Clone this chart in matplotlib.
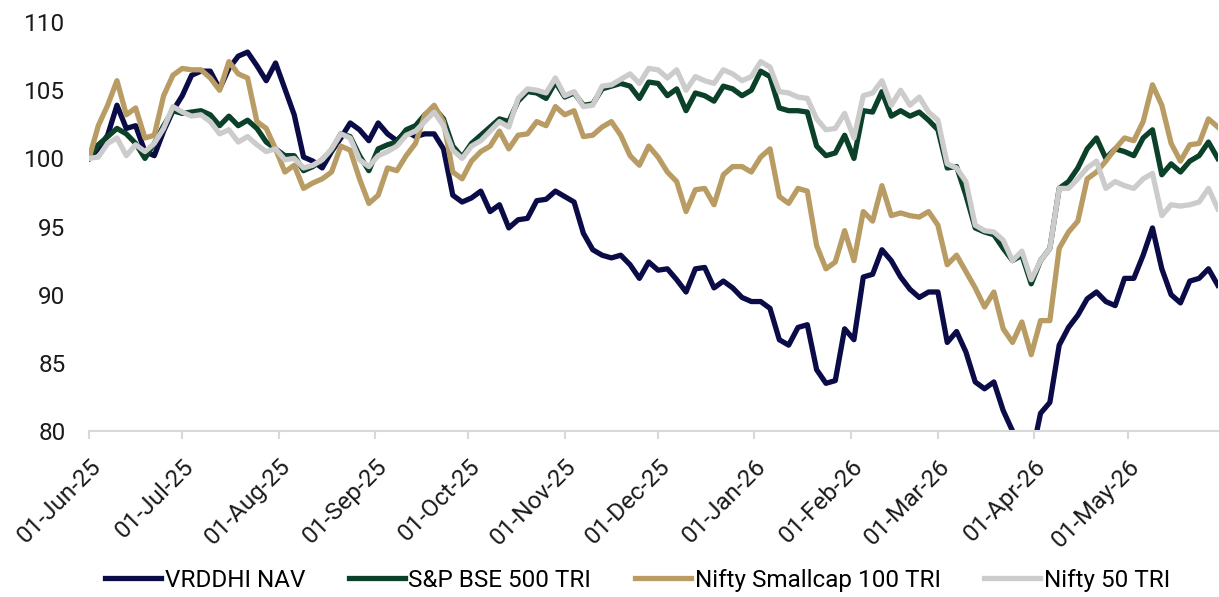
import numpy as np
import pandas as pd
import matplotlib
matplotlib.use('Agg')
import matplotlib.pyplot as plt
import matplotlib.dates as mdates

plt.rcParams['font.family'] = ['Roboto', 'DejaVu Sans']

# values, one every 3 days from 01-Jun-25
dates = pd.date_range('2025-06-01', periods=122, freq='3D')

vrddhi = [100.0, 100.7, 101.7, 103.9, 102.2, 102.4, 100.5, 100.2, 102.0, 103.5,
          104.6, 106.1, 106.4, 106.4, 105.1, 106.6, 107.5, 107.8, 106.8, 105.7,
          107.0, 105.1, 103.2, 100.1, 99.8, 99.3, 100.5, 101.5, 102.6, 102.1,
          101.3, 102.6, 101.8, 101.3, 102.0, 101.6, 101.8, 101.8, 100.7, 97.3,
          96.8, 97.1, 97.6, 96.1, 96.6, 94.9, 95.5, 95.6, 96.9, 97.0,
          97.6, 97.2, 96.8, 94.5, 93.3, 92.9, 92.7, 92.9, 92.2, 91.2,
          92.4, 91.8, 91.9, 91.1, 90.2, 91.9, 92.0, 90.5, 91.0, 90.5,
          89.8, 89.5, 89.5, 89.0, 86.7, 86.3, 87.6, 87.8, 84.5, 83.5,
          83.7, 87.5, 86.7, 91.3, 91.5, 93.3, 92.5, 91.3, 90.4, 89.8,
          90.2, 90.2, 86.5, 87.3, 85.8, 83.6, 83.1, 83.6, 81.5, 80.0,
          78.0, 78.0, 81.3, 82.1, 86.3, 87.6, 88.5, 89.7, 90.2, 89.5,
          89.2, 91.2, 91.2, 92.9, 94.9, 91.9, 90.0, 89.4, 91.0, 91.2,
          91.9, 90.7]

bse500 = [100.0, 101.0, 101.6, 102.2, 101.8, 101.1, 100.0, 101.1, 102.4, 103.5,
          103.3, 103.4, 103.5, 103.2, 102.4, 103.1, 102.4, 102.8, 102.2, 101.2,
          100.7, 100.2, 100.2, 99.1, 99.4, 99.9, 100.6, 101.8, 101.6, 100.2,
          99.1, 100.7, 101.0, 101.2, 102.1, 102.4, 103.2, 103.7, 102.9, 100.9,
          100.1, 101.1, 101.7, 102.3, 102.9, 102.7, 104.2, 104.9, 104.8, 104.4,
          105.6, 104.5, 104.8, 103.9, 104.0, 105.1, 105.3, 105.5, 105.3, 104.4,
          105.6, 105.5, 104.6, 105.1, 103.5, 104.8, 104.6, 104.2, 105.3, 105.1,
          104.6, 105.0, 106.4, 106.0, 103.7, 103.5, 103.5, 103.4, 100.9, 100.2,
          100.4, 101.7, 100.0, 103.5, 103.4, 104.9, 103.1, 103.5, 103.1, 103.4,
          102.8, 102.1, 99.3, 99.4, 97.3, 94.9, 94.6, 94.4, 93.4, 92.5,
          92.9, 90.8, 92.5, 93.4, 97.8, 98.3, 99.3, 100.7, 101.5, 100.0,
          100.7, 100.5, 100.2, 101.5, 102.1, 98.8, 99.6, 99.0, 99.8, 100.2,
          101.2, 100.0]

smallcap = [100.0, 102.4, 103.9, 105.7, 103.2, 103.7, 101.5, 101.7, 104.6, 106.1,
            106.6, 106.5, 106.5, 105.9, 105.0, 107.1, 106.2, 105.9, 102.7, 102.2,
            100.7, 99.0, 99.5, 97.8, 98.2, 98.5, 99.0, 100.9, 100.6, 98.5,
            96.7, 97.3, 99.3, 99.1, 100.2, 101.1, 103.2, 103.9, 102.7, 99.0,
            98.5, 99.8, 100.5, 100.9, 102.0, 100.7, 101.7, 101.8, 102.7, 102.4,
            103.8, 103.2, 103.5, 101.6, 101.7, 102.3, 102.7, 101.7, 100.2, 99.5,
            100.9, 100.1, 99.0, 98.3, 96.1, 97.7, 97.8, 96.6, 98.8, 99.4,
            99.4, 99.0, 100.1, 100.7, 97.2, 96.7, 97.8, 97.6, 93.6, 91.9,
            92.4, 94.7, 92.5, 96.1, 95.4, 98.0, 95.8, 96.0, 95.8, 95.7,
            96.1, 95.1, 92.2, 92.9, 91.7, 90.5, 89.1, 90.2, 87.5, 86.5,
            88.0, 85.6, 88.1, 88.1, 93.4, 94.6, 95.4, 98.5, 99.0, 99.8,
            100.7, 101.5, 101.3, 102.7, 105.4, 103.9, 101.1, 99.8, 101.0, 101.1,
            102.9, 102.3]

nifty50 = [100.0, 100.1, 101.1, 101.5, 100.2, 101.0, 100.5, 101.1, 102.2, 103.8,
           103.4, 103.1, 103.2, 102.7, 101.8, 102.1, 101.2, 101.6, 101.0, 100.5,
           100.7, 99.9, 100.0, 99.3, 99.5, 99.9, 100.7, 101.8, 101.5, 99.9,
           99.4, 100.2, 100.5, 100.9, 101.7, 102.0, 102.7, 103.4, 102.4, 100.6,
           100.0, 100.9, 101.3, 102.0, 102.7, 102.3, 104.4, 105.1, 105.0, 104.8,
           105.9, 104.6, 104.9, 103.8, 103.9, 105.3, 105.4, 105.8, 106.2, 105.5,
           106.6, 106.5, 105.9, 106.5, 105.0, 106.0, 105.7, 105.5, 106.5, 106.2,
           105.7, 106.0, 107.1, 106.7, 104.9, 104.8, 104.5, 104.4, 102.9, 102.1,
           102.2, 103.3, 101.5, 104.6, 104.8, 105.7, 103.9, 105.0, 103.9, 104.5,
           103.4, 102.8, 99.6, 99.3, 98.3, 95.1, 94.7, 94.6, 94.0, 92.5,
           93.2, 91.1, 92.5, 93.4, 97.8, 97.8, 98.5, 99.3, 99.8, 97.8,
           98.3, 98.0, 97.8, 98.5, 98.9, 95.8, 96.6, 96.5, 96.6, 96.8,
           97.8, 96.3]

series = [
    ('VRDDHI NAV', vrddhi, '#0b0b48'),
    ('S&P BSE 500 TRI', bse500, '#0b4029'),
    ('Nifty Smallcap 100 TRI', smallcap, '#b89c64'),
    ('Nifty 50 TRI', nifty50, '#cccccc'),
]

FS = 17.5

fig = plt.figure(figsize=(12.19, 5.97), dpi=100)
ax = fig.add_axes([0.073, 0.278, 0.926, 0.685])

for name, vals, col in series:
    ax.plot(dates, vals, color=col, lw=3.8, label=name, solid_joinstyle='round')

ax.set_ylim(80, 110)
ax.set_yticks(np.arange(80, 111, 5))
ax.set_xlim(pd.Timestamp('2025-06-01'), pd.Timestamp('2026-05-30'))
ax.xaxis.set_major_locator(mdates.MonthLocator(bymonthday=1))
ax.xaxis.set_major_formatter(mdates.DateFormatter('%d-%b-%y'))

for s in ['top', 'right', 'left']:
    ax.spines[s].set_visible(False)
ax.spines['bottom'].set_color('#d9d9d9')
ax.spines['bottom'].set_linewidth(1.5)
ax.tick_params(axis='x', colors='#d9d9d9', length=6, width=1.5, pad=11,
               labelcolor='#1a1a1a', labelsize=FS)
ax.tick_params(axis='y', length=0, pad=17, labelcolor='#1a1a1a', labelsize=FS)
for lbl in ax.get_xticklabels():
    lbl.set_rotation(45)
    lbl.set_ha('right')
    lbl.set_rotation_mode('anchor')

fig.legend(loc='center', bbox_to_anchor=(0.523, 0.028), ncol=4, frameon=False,
           fontsize=FS, handlelength=2.3, handletextpad=0.15, columnspacing=1.8)

fig.savefig('out.png', dpi=100)
